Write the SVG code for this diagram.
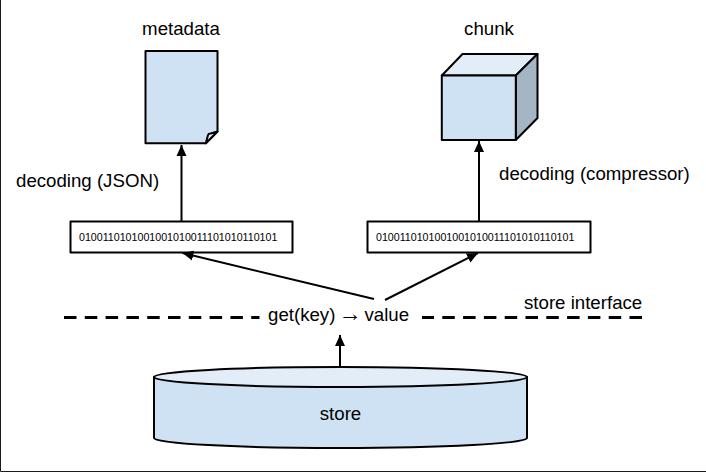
<svg xmlns="http://www.w3.org/2000/svg" width="706" height="472" viewBox="0 0 706 472">
<style>
.s{stroke:#000;stroke-width:2;stroke-linejoin:round;stroke-linecap:round}
.b{fill:#cfe2f3}
text{font-family:"Liberation Sans",Arial,sans-serif;fill:#000}
.t{font-size:18.67px}
.c{font-size:10.67px}
.a{fill:none;stroke:#000;stroke-width:2}
.d{fill:none;stroke:#000;stroke-width:3;stroke-dasharray:12.5 8.3}
</style>
<defs>
<marker id="ah" markerUnits="userSpaceOnUse" markerWidth="12" markerHeight="12" viewBox="0 0 12 12" refX="11" refY="6" orient="auto"><path d="M0 1 L11 6 L0 11 Z" fill="#000"/></marker>
</defs>
<rect width="706" height="472" fill="#fff"/>
<path d="M0.5 0V471.5H706" fill="none" stroke="#1a1a1a" stroke-width="1"/>
<g id="metadata">
<path class="s b" d="M145.500 51H217.500V131.500L205.800 143.200H145.500Z"/>
<path class="s" fill="#e2edf8" d="M205.800 143.200L208 135Q208.500 133.500 210.500 133.500L217.500 131.500Z"/>
<text class="t" x="181" y="35" text-anchor="middle">metadata</text>
</g>
<g id="chunk">
<path class="s" fill="#e2edf8" d="M441.800 75.500L462.500 54H537.500L515.800 75.500Z"/>
<path class="s" fill="#a5b5c4" d="M515.800 75.500L537.500 54V118L515.800 140Z"/>
<rect class="s b" x="441.800" y="75.500" width="74" height="64.500"/>
<text class="t" x="489" y="35" text-anchor="middle">chunk</text>
</g>
<g id="bytes-left">
<rect class="s" fill="#fff" x="70.500" y="221.500" width="222" height="31"/>
<text class="c" x="79" y="241">0100110101001001010011101010110101</text>
</g>
<g id="bytes-right">
<rect class="s" fill="#fff" x="367.500" y="221.500" width="223" height="31"/>
<text class="c" x="376" y="241">0100110101001001010011101010110101</text>
</g>
<g id="store">
<path class="s b" d="M154 377V438C154 443.500 237 448 340.500 448S527 443.500 527 438V377Z"/>
<ellipse class="s" fill="#e2edf8" cx="340.500" cy="377" rx="186.500" ry="10"/>
<text class="t" x="340.500" y="420" text-anchor="middle">store</text>
</g>
<g id="connectors">
<path class="a" marker-end="url(#ah)" d="M181.500 221V145"/>
<path class="a" marker-end="url(#ah)" d="M479 221V141"/>
<path class="a" marker-end="url(#ah)" d="M374 299L182.500 253"/>
<path class="a" marker-end="url(#ah)" d="M385 300L478 253"/>
<path class="a" marker-end="url(#ah)" d="M340 367V335"/>
<path class="d" d="M64 317.500H259.500"/>
<path class="d" d="M642 317.500H422"/>
</g>
<text class="t" x="16" y="187">decoding (JSON)</text>
<text class="t" x="499" y="180">decoding (compressor)</text>
<text class="t" x="268" y="321">get(key) <tspan font-size="23" dx="-2.150">→</tspan><tspan dx="-2.150"> value</tspan></text>
<text class="t" x="524" y="309">store interface</text>
</svg>
